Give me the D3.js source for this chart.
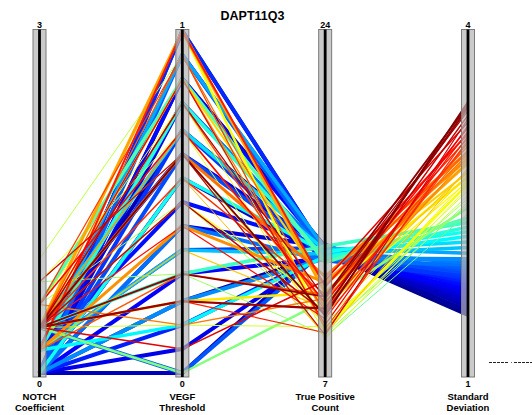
<!DOCTYPE html>
<html><head><meta charset="utf-8">
<script src="https://cdn.jsdelivr.net/npm/d3@7"></script>
<style>body{margin:0;background:#fff}svg{display:block;font-family:"Liberation Sans",Arial,sans-serif}</style>
</head><body><svg id="c" width="532" height="415"></svg>
<script>
const title = "DAPT11Q3";
const dimNames = [["NOTCH","Coefficient"],["VEGF","Threshold"],["True Positive","Count"],["Standard","Deviation"]];
const dimMin = [0, 0, 7, 1];
const dimMax = [3, 1, 24, 4];
const topLabels = ["3", "1", "24", "4"];
const bottomLabels = ["0", "0", "7", "1"];

// per-line values (blue → cyan → green → yellow → orange → red → dark red)
const notch = [0,0,0,0.2,0,0,0.2,0,0,0,0.4,0,0,0.2,0,0,0,0.2,0,0.4,0,0,0.2,0,
  0.2,0.2,0.4,0.2,0,0.2,0.4,0.6,
  0.8,0.4,0.4,0.8,0.6,1.0,0.4,0.8,
  0.4,0.4,0.6,0.4,0.8,0.4,0.2,0.4,
  0.4,0.4,0.2,0.4,0.6,0.4,0.4,0.2,
  0.4,0.6,0.4,0.4,0.2,0.4,0.6,0.4,0.4,0.8,0.4,0.4,
  0.4,0.4,0.4];
const vegf = [1,.86,.21,.71,0,.57,.93,.43,.79,.07,.64,.29,.86,.5,.14,1,.71,.36,.64,0,.93,.43,.79,.21,
  .93,.36,.71,.14,.57,.79,.29,.86,
  .64,0,.86,.29,.5,.93,.14,.71,
  1,.5,.79,.21,.64,.86,.36,.57,
  1,.71,.43,.86,.14,.64,.93,.29,
  .79,.93,.57,.21,1,.43,.71,.86,.07,.64,.5,.79,
  .21,.29,.64];
const tpCount = [13.0,13.3,12.9,13.2,13.4,12.8,13.1,13.3,12.9,13.0,13.2,12.7,13.1,13.3,12.9,13.0,12.6,13.2,12.8,13.1,12.9,12.6,13.0,12.7,
  13.2,12.9,13.1,12.8,13.0,12.7,13.3,12.5,
  8.8,10.6,9.2,8.9,9.5,9.1,9.3,8.7,
  9.2,10.5,9.0,11.0,9.6,11.4,10.2,8.9,
  11.0,10.4,11.5,9.9,10.7,11.8,10.2,10.9,
  10.1,9.2,10.9,9.0,11.3,9.7,10.5,9.4,11.6,8.9,10.0,10.7,
  10.2,10.8,9.85];
const stdDev = [1.51,1.53,1.55,1.58,1.60,1.61,1.63,1.66,1.68,1.70,1.71,1.74,1.76,1.77,1.80,1.82,1.84,1.85,1.88,1.90,1.92,1.95,1.97,2.00,
  2.05,2.10,2.15,2.20,2.24,2.28,2.32,2.36,
  2.40,2.45,2.48,2.50,2.53,2.56,2.60,2.63,
  2.66,2.68,2.70,2.72,2.74,2.76,2.78,2.80,
  2.84,2.86,2.88,2.90,2.92,2.94,2.96,2.99,
  3.02,3.04,3.06,3.08,3.10,3.12,3.15,3.17,3.20,3.23,3.26,3.30,
  3.33,3.35,3.38];
const lineW = [4,4,4,4,4,4,4,4,4,4,4,4,4,4,4,4,4,4,4,4,4,4,4,4,
  3.5,3.5,3.5,3.5,3.5,3.5,3.5,3.5,
  1,2.5,1,1,1,1,1,1,
  2.5,1.2,1,2.5,1,2,1.2,1,
  3,1.5,3,1.2,1.5,3,1.2,1.5,
  1.5,1.2,1.5,1.2,2,1.2,1.5,1.2,1.5,1.2,1.5,1.2,
  2.2,1.8,1.8];

const svg = d3.select("#c");
const yTop = 31, yBot = 373;
const x = d3.scalePoint().domain(d3.range(4)).range([39.5, 468]);
const ys = dimMin.map((m, i) => d3.scaleLinear().domain([m, dimMax[i]]).range([yBot, yTop]));

const sMin = d3.min(stdDev), sMax = d3.max(stdDev);
const tS = d3.scaleLinear().domain([sMin, sMax]).range([0, 1]);
const jet = d3.scaleLinear()
  .domain([0, 0.125, 0.375, 0.625, 0.875, 1])
  .range(["#00008f", "#0000ff", "#00ffff", "#ffff00", "#ff0000", "#800000"]);

const rows = notch.map((n, i) => ({vals: [n, vegf[i], tpCount[i], stdDev[i]], w: lineW[i]}));
rows.sort((a, b) => a.vals[3] - b.vals[3]);

const line = d3.line().x((d, i) => x(i)).y((d, i) => ys[i](d));
svg.append("g").selectAll("path").data(rows).join("path")
  .attr("d", d => line(d.vals))
  .attr("fill", "none")
  .attr("stroke", d => jet(tS(d.vals[3])))
  .attr("stroke-width", d => d.w)
  .attr("stroke-linejoin", "round");

// axis bars
const g = svg.append("g");
d3.range(4).forEach(i => {
  const cx = x(i);
  g.append("rect").attr("x", cx - 6.5).attr("y", 29.5).attr("width", 13).attr("height", 347.5)
    .attr("fill", "#b4b4b4").attr("fill-opacity", 0.7).attr("stroke", "#7a7a7a").attr("stroke-width", 1);
  g.append("line").attr("x1", cx).attr("x2", cx).attr("y1", 29.5).attr("y2", 377)
    .attr("stroke", "#000").attr("stroke-width", 2.8);
  g.append("text").attr("x", cx).attr("y", 27.5).attr("text-anchor", "middle")
    .attr("font-size", 9).attr("font-weight", "bold").text(topLabels[i]);
  g.append("text").attr("x", cx).attr("y", 387).attr("text-anchor", "middle")
    .attr("font-size", 9).attr("font-weight", "bold").text(bottomLabels[i]);
  dimNames[i].forEach((t, j) => g.append("text").attr("x", cx).attr("y", 399.5 + j * 11)
    .attr("text-anchor", "middle").attr("font-size", 9.5).attr("font-weight", "bold").text(t));
});

svg.append("text").attr("x", 252.5).attr("y", 19.5).attr("text-anchor", "middle")
  .attr("font-size", 12.5).attr("font-weight", "bold").text(title);

// stray legend dash fragment
svg.append("line").attr("x1", 489).attr("x2", 509).attr("y1", 362.5).attr("y2", 362.5)
  .attr("stroke", "#222").attr("stroke-width", 1).attr("stroke-dasharray", "3,1");
svg.append("line").attr("x1", 511).attr("x2", 512).attr("y1", 362.5).attr("y2", 362.5)
  .attr("stroke", "#666").attr("stroke-width", 1);
svg.append("line").attr("x1", 514).attr("x2", 532).attr("y1", 362.5).attr("y2", 362.5)
  .attr("stroke", "#222").attr("stroke-width", 1).attr("stroke-dasharray", "3,1");
</script></body></html>
